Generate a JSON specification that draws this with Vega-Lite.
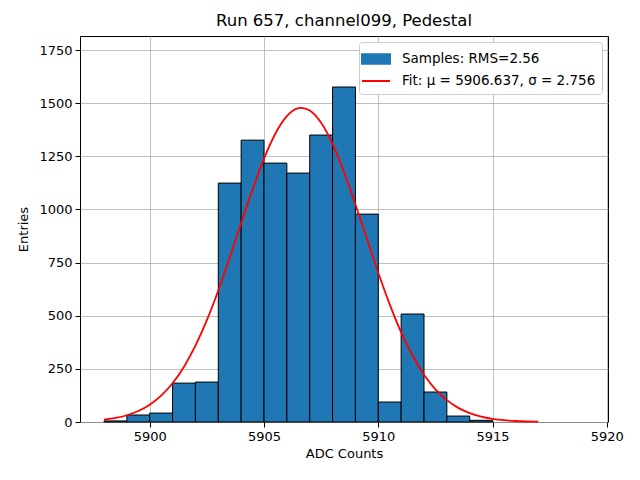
{
  "$schema": "https://vega.github.io/schema/vega-lite/v6.json",
  "width": 528,
  "height": 386,
  "autosize": {"type": "none"},
  "padding": {"left": 80, "top": 36, "right": 32, "bottom": 58},
  "background": "white",
  "title": {"text": "Run 657, channel099, Pedestal", "font": "DejaVu Sans", "fontSize": 16.5, "fontWeight": "normal", "color": "black", "offset": 7},
  "config": {
    "view": {"stroke": "black", "strokeWidth": 1},
    "axis": {
      "labelFont": "DejaVu Sans", "labelFontSize": 13, "labelColor": "black",
      "titleFont": "DejaVu Sans", "titleFontSize": 13, "titleFontWeight": "normal", "titleColor": "black",
      "domain": false, "tickColor": "black", "tickSize": 5, "tickWidth": 1,
      "gridColor": "#b0b0b0", "gridWidth": 0.8, "labelPadding": 3, "zindex": 1
    }
  },
  "datasets": {
    "hist": [
      {"lo": 5898, "hi": 5899, "count": 5},
      {"lo": 5899, "hi": 5900, "count": 33},
      {"lo": 5900, "hi": 5901, "count": 42},
      {"lo": 5901, "hi": 5902, "count": 183},
      {"lo": 5902, "hi": 5903, "count": 188},
      {"lo": 5903, "hi": 5904, "count": 1124},
      {"lo": 5904, "hi": 5905, "count": 1326},
      {"lo": 5905, "hi": 5906, "count": 1218},
      {"lo": 5906, "hi": 5907, "count": 1171},
      {"lo": 5907, "hi": 5908, "count": 1350},
      {"lo": 5908, "hi": 5909, "count": 1576},
      {"lo": 5909, "hi": 5910, "count": 978},
      {"lo": 5910, "hi": 5911, "count": 94},
      {"lo": 5911, "hi": 5912, "count": 508},
      {"lo": 5912, "hi": 5913, "count": 141},
      {"lo": 5913, "hi": 5914, "count": 28},
      {"lo": 5914, "hi": 5915, "count": 8}
    ],
    "fit": [
      {"adc": 5898, "y": 10.9}, {"adc": 5898.5, "y": 18.9}, {"adc": 5899, "y": 31.8},
      {"adc": 5899.5, "y": 51.7}, {"adc": 5900, "y": 81.3}, {"adc": 5900.5, "y": 123.9},
      {"adc": 5901, "y": 182.4}, {"adc": 5901.5, "y": 260.3}, {"adc": 5902, "y": 358.9},
      {"adc": 5902.5, "y": 479.0}, {"adc": 5903, "y": 618.7}, {"adc": 5903.5, "y": 773.3},
      {"adc": 5904, "y": 935.1}, {"adc": 5904.5, "y": 1094.3}, {"adc": 5905, "y": 1239.0},
      {"adc": 5905.5, "y": 1357.4}, {"adc": 5906, "y": 1439.0}, {"adc": 5906.5, "y": 1476.2},
      {"adc": 5906.637, "y": 1478.0}, {"adc": 5907, "y": 1465.2}, {"adc": 5907.5, "y": 1407.4},
      {"adc": 5908, "y": 1307.9}, {"adc": 5908.5, "y": 1176.1}, {"adc": 5909, "y": 1023.4},
      {"adc": 5909.5, "y": 861.7}, {"adc": 5910, "y": 702.1}, {"adc": 5910.5, "y": 553.4},
      {"adc": 5911, "y": 422.1}, {"adc": 5911.5, "y": 311.6}, {"adc": 5912, "y": 222.6},
      {"adc": 5912.5, "y": 153.9}, {"adc": 5913, "y": 102.8}, {"adc": 5913.5, "y": 66.5},
      {"adc": 5914, "y": 41.7}, {"adc": 5914.5, "y": 25.2}, {"adc": 5915, "y": 14.8},
      {"adc": 5915.5, "y": 8.4}, {"adc": 5916, "y": 4.6}, {"adc": 5916.5, "y": 2.4},
      {"adc": 5917, "y": 1.3}
    ]
  },
  "layer": [
    {
      "data": {"name": "hist"},
      "transform": [{"calculate": "'Samples: RMS=2.56'", "as": "series"}],
      "mark": {"type": "rect", "stroke": "black", "strokeWidth": 1, "fillOpacity": 1},
      "encoding": {
        "x": {"field": "lo", "type": "quantitative", "title": "ADC Counts",
              "scale": {"domain": [5896.95, 5920.05], "nice": false, "zero": false},
              "axis": {"values": [5900, 5905, 5910, 5915, 5920], "format": "d"}},
        "x2": {"field": "hi"},
        "y": {"field": "count", "type": "quantitative", "title": "Entries",
              "scale": {"domain": [0, 1816], "nice": false},
              "axis": {"values": [0, 250, 500, 750, 1000, 1250, 1500, 1750], "format": "d", "titlePadding": 8}},
        "y2": {"datum": 0},
        "color": {"field": "series", "type": "nominal"}
      }
    },
    {
      "data": {"name": "fit"},
      "transform": [{"calculate": "'Fit: μ = 5906.637, σ = 2.756'", "as": "series"}],
      "mark": {"type": "line", "strokeWidth": 1.8, "interpolate": "monotone"},
      "encoding": {
        "x": {"field": "adc", "type": "quantitative"},
        "y": {"field": "y", "type": "quantitative"},
        "color": {"field": "series", "type": "nominal",
          "scale": {"domain": ["Samples: RMS=2.56", "Fit: μ = 5906.637, σ = 2.756"], "range": ["#1f77b4", "red"]},
          "legend": {
            "title": null, "orient": "top-right", "offset": 6,
            "fillColor": "white", "strokeColor": "#cccccc", "cornerRadius": 3, "padding": 6,
            "labelFont": "DejaVu Sans", "labelFontSize": 13.5, "labelColor": "black", "labelLimit": 400,
            "symbolSize": 400, "symbolStrokeWidth": 2, "labelOffset": 15, "rowPadding": 2
          }
        }
      }
    },
    {
      "data": {"name": "fit"},
      "transform": [{"calculate": "'Fit: μ = 5906.637, σ = 2.756'", "as": "series"}],
      "mark": {"type": "point", "opacity": 0},
      "encoding": {
        "x": {"field": "adc", "type": "quantitative"},
        "y": {"field": "y", "type": "quantitative"},
        "color": {"field": "series", "type": "nominal"},
        "shape": {"field": "series", "type": "nominal",
          "scale": {"domain": ["Samples: RMS=2.56", "Fit: μ = 5906.637, σ = 2.756"], "range": ["M-1.4,-0.485H1.4V0.485H-1.4Z", "M-1.4,0H1.4"]}}
      }
    }
  ]
}
